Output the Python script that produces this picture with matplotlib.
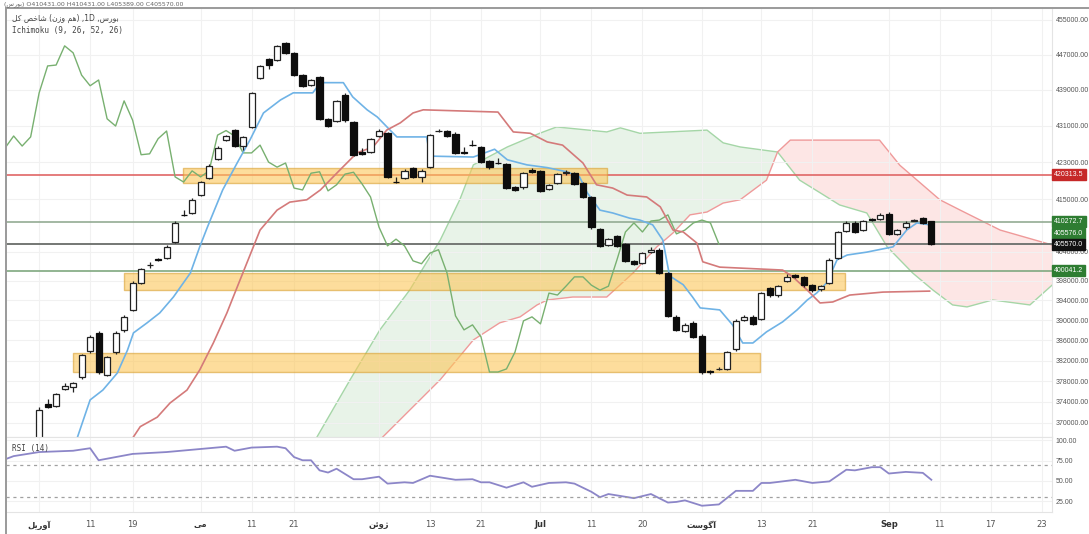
import numpy as np
import matplotlib.pyplot as plt
from matplotlib.ticker import FixedLocator, NullLocator, FixedFormatter
from matplotlib.lines import Line2D

# daily candles, bar index 0..105
opens = [366500, 373600, 373200, 376500, 376900, 378800, 383900, 387500, 379200, 383700,
         388100, 392100, 397600, 401200, 402500, 402700, 406000, 411700, 412100, 415900,
         419600, 423700, 427800, 430000, 426500, 430700, 441700, 446000, 445800, 449700,
         447300, 442300, 440100, 441900, 432500, 432000, 437800, 431800, 425200, 425200,
         428700, 429300, 418800, 419600, 421700, 419800, 422000, 429800, 429800, 429200,
         425200, 426800, 426300, 423200, 422900, 422600, 417600, 417600, 421300, 421100,
         417200, 418500, 420600, 420600, 418500, 415500, 408700, 405400, 407300, 405600,
         402100, 401700, 404000, 404400, 399600, 390700, 387900, 389500, 386900, 380000,
         380300, 380400, 384300, 390100, 390700, 390300, 396500, 395100, 398000, 399200,
         398800, 397100, 396300, 397600, 402700, 408300, 410000, 408500, 410800, 410800,
         411900, 407700, 409100, 410500, 411000, 410431]
highs = [373000, 374600, 375800, 377700, 377900, 383400, 387000, 387800, 383000, 387800,
         391000, 397900, 400700, 401900, 402700, 405300, 410300, 412700, 415200, 419000,
         422500, 426400, 429000, 430300, 428800, 438600, 444700, 446200, 449300, 449900,
         447600, 442600, 441500, 442200, 432700, 436800, 438300, 432100, 426100, 428300,
         430200, 429600, 419800, 421400, 422000, 421400, 429200, 430200, 430000, 429500,
         426300, 427800, 426600, 423500, 423900, 422900, 417800, 420900, 421800, 421300,
         418300, 420700, 421200, 420900, 418700, 415800, 409000, 406900, 407500, 405900,
         402300, 404000, 405000, 404700, 399900, 391000, 389400, 389800, 387200, 380200,
         380700, 384000, 390200, 391000, 391000, 395800, 396800, 397200, 399300, 399400,
         399000, 397300, 397200, 402600, 408400, 410300, 410300, 410700, 411100, 412100,
         412200, 408800, 410300, 410900, 411300, 410431]
lows = [366000, 372800, 373000, 376300, 375900, 378500, 383600, 379500, 379000, 383400,
        387700, 391800, 397300, 400600, 402000, 402400, 405700, 411400, 411800, 415600,
        419300, 423400, 427500, 426200, 425600, 430400, 441400, 443700, 445500, 447100,
        442000, 439600, 439800, 432200, 430600, 431700, 431900, 424300, 424600, 424900,
        428500, 419500, 418500, 419300, 419500, 418700, 421700, 429600, 428500, 424700,
        424800, 426500, 422700, 421600, 422600, 417100, 416700, 417300, 420700, 416500,
        417000, 418200, 420300, 418000, 415200, 408800, 404900, 405100, 404900, 401800,
        401200, 401400, 403700, 399300, 390600, 387800, 387600, 386400, 379500, 379500,
        380100, 380100, 384000, 389800, 389000, 390000, 394800, 394800, 397700, 398600,
        396800, 395800, 396000, 397300, 402400, 408000, 407800, 408200, 410400, 410600,
        407400, 407400, 408800, 410300, 409700, 405389]
closes = [372500, 373000, 375500, 377100, 377700, 383100, 386700, 379800, 382700, 387500,
          390700, 397600, 400400, 401300, 402200, 405000, 410000, 411600, 414900, 418700,
          422200, 426100, 428700, 426500, 428500, 438300, 444400, 444600, 449000, 447400,
          442300, 439900, 441200, 432500, 430900, 436500, 432200, 424600, 424800, 428100,
          429800, 419800, 418700, 421100, 419800, 421100, 428900, 429900, 428700, 425000,
          425000, 426700, 423000, 421900, 422800, 417400, 417000, 420600, 420900, 416800,
          418100, 420400, 420800, 418300, 415500, 409100, 405200, 406600, 405200, 402100,
          401500, 403700, 404400, 399600, 390900, 388100, 389100, 386700, 379800, 379800,
          380400, 383700, 389900, 390700, 389300, 395500, 395100, 396900, 398800, 398800,
          397100, 396100, 396900, 402300, 408100, 410000, 408100, 410400, 410600, 411700,
          407700, 408500, 410000, 410600, 410000, 405570]

# Ichimoku lines (bar, price)
tenkan_x = [4.2, 6.0, 7.5, 9.2, 10.4, 11.1, 12.7, 14.2, 15.8, 17.8, 18.9, 19.8, 21.6, 23.3, 24.8, 26.4,
            28.4, 29.9, 32.2, 33.1, 35.8, 36.9, 38.6, 39.8, 41.3, 42.1, 45.6, 46.0, 51.1, 53.6, 55.1,
            57.4, 59.8, 62.1, 63.6, 64.5, 66.0, 67.5, 69.5, 70.7, 72.2, 73.4, 74.2, 75.8, 76.9, 77.8,
            80.1, 81.6, 82.8, 84.0, 85.6, 87.5, 89.2, 90.4, 91.5, 92.7, 93.9, 95.1, 97.4, 100.5,
            102.1, 103.3, 104.8]
tenkan_y = [365850, 374400, 376300, 379600, 384100, 387500, 389500, 391500, 394700, 399600,
            405000, 409100, 417000, 422800, 427800, 433800, 436700, 438300, 438300, 440600,
            440600, 437400, 434500, 432900, 430000, 428500, 428500, 424300, 424100, 425800,
            423500, 422400, 421800, 420900, 419800, 416400, 412700, 412100, 411000, 410600,
            409600, 406400, 399000, 397200, 394700, 392500, 392100, 389100, 385500, 385500,
            387700, 389700, 392100, 394100, 395500, 397600, 402300, 403300, 403900, 405000,
            408500, 410000, 409600]
kijun_x = [10.7, 11.9, 13.9, 15.4, 17.4, 18.9, 20.5, 22.1, 22.7, 26.0, 28.0, 29.5, 31.5, 33.1, 35.4,
           37.4, 39.3, 40.9, 42.5, 44.0, 45.2, 54.0, 55.8, 57.8, 59.8, 61.6, 64.0, 65.6, 67.5, 69.2,
           71.5, 73.1, 74.6, 75.8, 77.4, 78.1, 80.1, 87.5, 88.7, 90.4, 91.9, 93.4, 95.4, 99.3, 104.8]
kijun_y = [366400, 369300, 371100, 373800, 376300, 380200, 385500, 391500, 394100, 408500,
           412700, 414400, 414900, 417000, 421300, 425000, 426300, 430000, 431600, 433800,
           434500, 434000, 429600, 429300, 427400, 426700, 422800, 418100, 417400, 415900,
           415500, 413400, 408500, 408100, 405800, 401900, 400800, 400200, 398800, 396100,
           393500, 393700, 395100, 395700, 395900]
span_a_x = [32.5, 36.6, 40.1, 43.6, 47.2, 49.5, 51.1, 55.1, 58.9, 60.9, 66.8, 68.4, 70.7, 78.6, 80.5,
            82.5, 86.9, 89.5, 91.9, 94.2, 97.4, 99.8, 102.8, 105.2, 107.5, 109.2, 112.2, 116.6, 119.2]
span_a_y = [366800, 378300, 388100, 396100, 406400, 414900, 422400, 426300, 429300, 430700,
            429600, 430500, 429300, 430000, 427200, 426300, 425200, 419100, 416400, 413800,
            412100, 405000, 399600, 396100, 393100, 392700, 394100, 393100, 397100]
span_b_x = [40.1, 47.2, 51.1, 54.2, 56.6, 58.6, 59.8, 62.8, 66.8, 69.9, 72.7, 74.6, 76.6, 78.6, 80.5,
            82.5, 85.6, 86.9, 88.4, 98.9, 101.3, 106.0, 108.4, 113.1, 119.2]
span_b_y = [366800, 378300, 386100, 389500, 390700, 393100, 394100, 394700, 394700, 399600,
            405000, 407900, 411700, 412300, 414200, 414900, 419100, 425200, 427800, 427800,
            422300, 414900, 412700, 408500, 405400]
cross_bar = 86.9
lag_shift = 25

# RSI(14)
rsi_x = [-4, -3, 0, 4, 6, 7, 11, 15, 22, 23, 25, 28, 29, 30, 31, 32, 33, 34, 35, 37, 38, 40, 41, 43,
         44, 46, 49, 51, 52, 53, 55, 57, 58, 60, 62, 63, 65, 66, 67, 70, 72, 74, 75, 76, 78, 80,
         82, 84, 85, 86, 89, 91, 93, 95, 96, 98, 99, 100, 102, 104, 105]
rsi_y = [76.6, 80.5, 85.5, 87.1, 90.2, 75.4, 83.2, 85.5, 92.1, 87.1, 91, 92.1, 90.2, 79.3, 75.4,
         75.4, 63, 60.3, 65, 52.1, 52.1, 55.2, 46.7, 48.3, 47.5, 56.4, 51.4, 52.1, 48.3, 48.3,
         41.7, 48.3, 42.8, 47.5, 48.3, 46.7, 36.6, 30, 33.9, 28.8, 33.9, 23.4, 24.2, 26.1, 19.5,
         21.1, 37.8, 37.8, 47.5, 47.5, 51.4, 47.5, 49.4, 63.8, 63, 66.9, 66.9, 59.1, 61.1, 59.9, 51.4]

# drawn zones and horizontal levels
box_start = [16.9, 10.0, 4.0]
box_end = [66.8, 94.8, 84.8]
box_low = [418500, 396100, 379800]
box_high = [421700, 399600, 383500]
levels = [420313.5, 410272.7, 405576.0, 405570.0, 400041.2]
level_line_cols = ['#e06666', '#93ab93', '#93ab93', '#6e6e6e', '#7fa87f']
level_tag_cols = ['#c62828', '#2e7d32', '#2e7d32', '#111111', '#2e7d32']
level_tag_shift = [0, 0, 7.5, 0, 0]

price_ticks = [455000, 447000, 439000, 431000, 423000, 415000, 404000, 398000, 394000,
               390000, 386000, 382000, 378000, 374000, 370000]
date_pos = [0, 6, 11, 19, 25, 30, 40, 46, 52, 59, 65, 71, 78, 85, 91, 100, 106, 112, 118]
date_lbl = ['آوریل', '11', '19', 'می', '11', '21', 'ژوئن', '13', '21', 'Jul', '11', '20',
            'آگوست', '13', '21', 'Sep', '11', '17', '23']

# minimal Persian shaping (matplotlib draws left-to-right, unshaped)
FORMS = {
    'ا': ('\ufe8d', '\ufe8e', None, None), 'آ': ('\ufe81', '\ufe82', None, None),
    'ب': ('\ufe8f', '\ufe90', '\ufe91', '\ufe92'), 'ت': ('\ufe95', '\ufe96', '\ufe97', '\ufe98'),
    'خ': ('\ufea5', '\ufea6', '\ufea7', '\ufea8'), 'ر': ('\ufead', '\ufeae', None, None),
    'ز': ('\ufeaf', '\ufeb0', None, None), 'ژ': ('\ufb8a', '\ufb8b', None, None),
    'س': ('\ufeb1', '\ufeb2', '\ufeb3', '\ufeb4'), 'ش': ('\ufeb5', '\ufeb6', '\ufeb7', '\ufeb8'),
    'ص': ('\ufeb9', '\ufeba', '\ufebb', '\ufebc'), 'ک': ('\ufb8e', '\ufb8f', '\ufb90', '\ufb91'),
    'گ': ('\ufb92', '\ufb93', '\ufb94', '\ufb95'), 'ل': ('\ufedd', '\ufede', '\ufedf', '\ufee0'),
    'م': ('\ufee1', '\ufee2', '\ufee3', '\ufee4'), 'ن': ('\ufee5', '\ufee6', '\ufee7', '\ufee8'),
    'ه': ('\ufee9', '\ufeea', '\ufeeb', '\ufeec'), 'و': ('\ufeed', '\ufeee', None, None),
    'ی': ('\ufbfc', '\ufbfd', '\ufbfe', '\ufbff'), 'ئ': ('\ufe89', '\ufe8a', '\ufe8b', '\ufe8c'),
}


def fa(text):
    if not any(ch in FORMS for ch in text):
        return text
    out = []
    for k, ch in enumerate(text):
        f = FORMS.get(ch)
        if f is None:
            out.append(ch)
            continue
        prev = text[k - 1] if k > 0 else ''
        nxt = text[k + 1] if k < len(text) - 1 else ''
        jp = prev in FORMS and FORMS[prev][2] is not None
        jn = nxt in FORMS and f[2] is not None
        out.append(f[3] if jp and jn else f[1] if jp else f[2] if jn else f[0])
    return ''.join(reversed(out))


plt.rcParams['font.family'] = ['DejaVu Sans']

W, H = 1089, 534
fig = plt.figure(figsize=(W / 100, H / 100), dpi=100)
ax = fig.add_axes([6 / W, 1 - 437 / H, 1046 / W, 429 / H])
ax2 = fig.add_axes([6 / W, 1 - 512 / H, 1046 / W, 75 / H], sharex=ax)

bars = np.arange(len(closes))
o, h, l, c = map(np.array, (opens, highs, lows, closes))
up = c >= o

# cloud
ka, kb = span_a_x.index(cross_bar), span_b_x.index(cross_bar)
ax.fill(span_a_x[:ka + 1] + span_b_x[:kb + 1][::-1], span_a_y[:ka + 1] + span_b_y[:kb + 1][::-1],
        color='#43a047', alpha=0.12, lw=0, zorder=1)
ax.fill(span_a_x[ka:] + span_b_x[kb:][::-1], span_a_y[ka:] + span_b_y[kb:][::-1],
        color='#f44336', alpha=0.13, lw=0, zorder=1)
ax.plot(span_a_x, span_a_y, color='#a5d6a7', lw=1, zorder=1.5)
ax.plot(span_b_x, span_b_y, color='#ef9a9a', lw=1, zorder=1.5)

for v, col in zip(levels, level_line_cols):
    ax.axhline(v, color=col, lw=1.2, zorder=2)

for x0, x1, lo, hi in zip(box_start, box_end, box_low, box_high):
    ax.fill_between([x0, x1], lo, hi, facecolor='#fcc75a', alpha=0.6,
                    edgecolor='#d9a030', lw=1, zorder=2.5)

ax.plot(bars - lag_shift, c, color='#78b070', lw=1, zorder=3)
ax.plot(tenkan_x, tenkan_y, color='#6fb3e6', lw=1.2, zorder=3)
ax.plot(kijun_x, kijun_y, color='#d47a7a', lw=1.2, zorder=3)

# candles
ax.vlines(bars, l, h, color='#222222', lw=0.9, zorder=4)
ax.bar(bars[up], (c - o)[up], bottom=o[up], width=0.72, color='white',
       edgecolor='#222222', lw=0.9, zorder=5)
ax.bar(bars[~up], (o - c)[~up], bottom=c[~up], width=0.72, color='#0d0d0d',
       edgecolor='#0d0d0d', lw=0.9, zorder=5)

ax.set_yscale('log')
ax.set_ylim(367340, 457810)
ax.set_xlim(-3.9, 119.2)
ax.yaxis.tick_right()
ax.yaxis.set_major_locator(FixedLocator(price_ticks))
ax.yaxis.set_major_formatter(FixedFormatter([f'{v:.2f}' for v in price_ticks]))
ax.yaxis.set_minor_locator(NullLocator())
ax.tick_params(axis='y', length=0, pad=2.5, labelsize=5, labelcolor='#555555')
for t in ax.get_yticklabels():
    t.set_family('Liberation Sans')
ax.tick_params(axis='x', length=0, labelbottom=False)
ax.xaxis.set_major_locator(FixedLocator(date_pos))
ax.grid(True, color='#f1f1f1', lw=0.8, zorder=0)

for v, col, dy in zip(levels, level_tag_cols, level_tag_shift):
    ax.annotate(f'{v:.1f}', xy=(1, v), xycoords=('axes fraction', 'data'),
                xytext=(1.5, dy), textcoords='offset points', ha='left', va='center',
                fontsize=5, family='Liberation Sans', color='white',
                annotation_clip=False, zorder=10,
                bbox=dict(boxstyle='square,pad=0.3', fc=col, ec=col))

# RSI panel
ax2.plot(rsi_x, rsi_y, color='#8c86c8', lw=1.3)
for v in (70, 30):
    ax2.axhline(v, color='#a0a0a0', lw=0.9, dashes=(2.5, 3))
ax2.set_ylim(11.8, 104)
ax2.yaxis.tick_right()
ax2.set_yticks([25, 50, 75, 100])
ax2.set_yticklabels(['25.00', '50.00', '75.00', '100.00'])
ax2.tick_params(axis='y', length=0, pad=2.5, labelsize=5, labelcolor='#555555')
for t in ax2.get_yticklabels():
    t.set_family('Liberation Sans')
ax2.set_xticks(date_pos)
ax2.set_xticklabels([fa(t) for t in date_lbl])
ax2.tick_params(axis='x', length=0, pad=6, labelsize=6, labelcolor='#555555')
for t, s in zip(ax2.get_xticklabels(), date_lbl):
    if not s.isdigit():
        t.set_fontweight('bold')
        t.set_color('#333333')
ax2.grid(True, color='#f1f1f1', lw=0.8, zorder=0)

for a in (ax, ax2):
    for side in ('top', 'bottom', 'right'):
        a.spines[side].set_color('#e4e4e4')
        a.spines[side].set_linewidth(0.8)
    a.spines['left'].set_visible(False)

# outer frame of the screenshot: top and left edges
fig.add_artist(Line2D([6 / W, 1], [1 - 8 / H, 1 - 8 / H], color='#9a9a9a', lw=1.4))
fig.add_artist(Line2D([6 / W, 6 / W], [0, 1 - 8 / H], color='#9a9a9a', lw=1.4))

fig.text(12 / W, 1 - 18 / H, fa('شاخص کل') + ' (' + fa('هم وزن') + ') ,1D ,' + fa('بورس'),
         fontsize=5.5, color='#444444', va='center')
fig.text(12 / W, 1 - 31 / H, 'Ichimoku (9, 26, 52, 26)', family='DejaVu Sans Mono',
         fontsize=5.5, color='#444444', va='center')
fig.text(12 / W, 1 - 448 / H, 'RSI (14)', family='DejaVu Sans Mono',
         fontsize=5.5, color='#444444', va='center')
fig.text(4 / W, 1 - 4 / H, '(' + fa('بورس') + ') ' + 'O410431.00 H410431.00 L405389.00 C405570.00',
         fontsize=4.5, color='#666666', va='center')

fig.savefig('out.png', dpi=100, facecolor='white')
